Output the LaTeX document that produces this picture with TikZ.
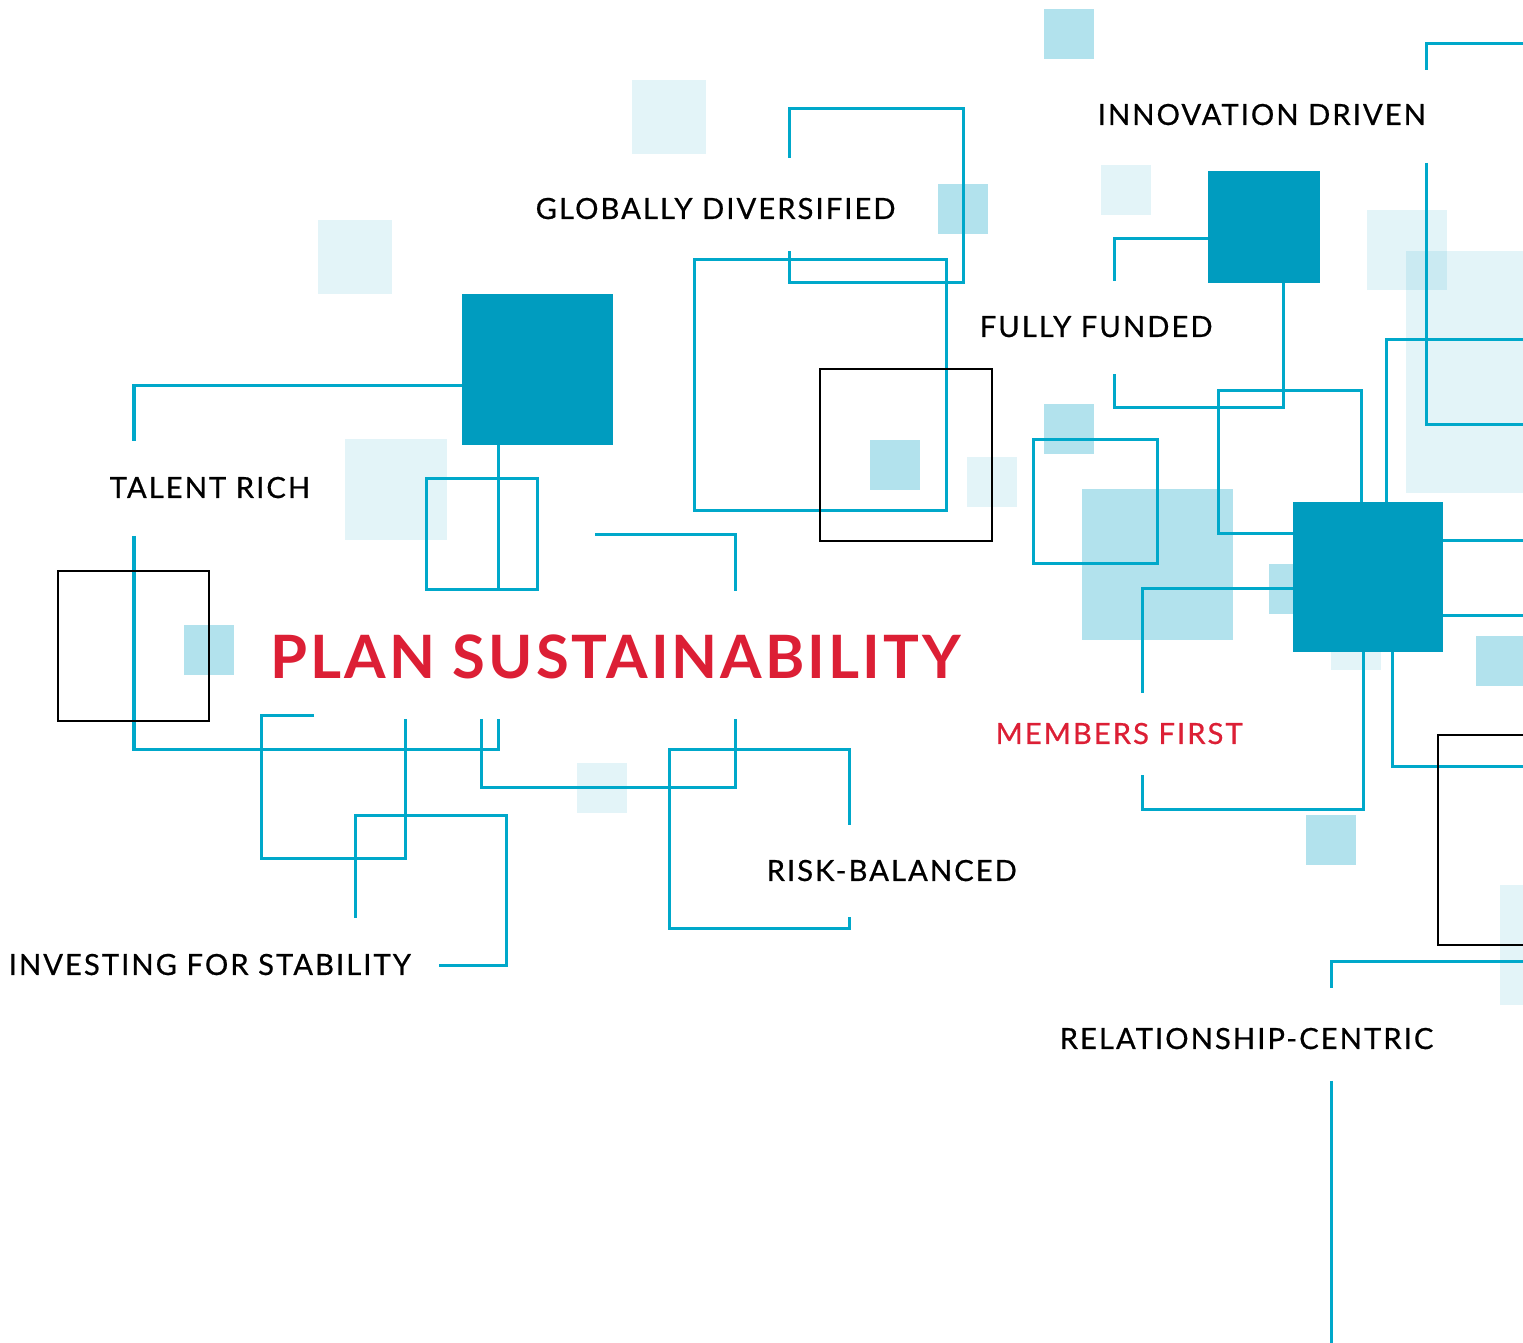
\documentclass[tikz,border=0pt]{standalone}
\usepackage{fontspec}
\setmainfont{Lato}
\newfontfamily\lblfont[LetterSpace=7, FakeBold=0.6]{Lato}
\newfontfamily\ttlfont[LetterSpace=5]{Lato}
\definecolor{sqblue}{HTML}{00A0C6}
\definecolor{sqdark}{HTML}{009CBF}
\definecolor{lineblue}{HTML}{00A8CA}
\definecolor{planred}{HTML}{DC1F35}

\begin{document}
\begin{tikzpicture}[
		x=0.01cm, y=-0.01cm,
		guide/.style	={ draw=lineblue, line width=0.03cm, line cap=butt, line join=miter },
		frame/.style	={ draw=black, line width=0.029cm },
		pale/.style		={ fill=sqblue, fill opacity=0.11 },
		light/.style	={ fill=sqblue, fill opacity=0.30 },
		block/.style	={ fill=sqdark },
		lbltext/.style	={ inner sep=0, anchor=base west,
			font=\lblfont\fontsize{8.3}{10}\selectfont },
		ttltext/.style	={ inner sep=0, anchor=base west, text=planred,
			font=\ttlfont\bfseries\fontsize{17}{20}\selectfont },
	]

	\fill[white] (0,0) rectangle (1523,1343);
	\useasboundingbox (0,0) rectangle (1523,1343);
	\clip (0,0) rectangle (1523,1343);

	% x/y/width/height of the squares
	\def\palelist{632/80/74/74, 318/220/74/74, 1101/165/50/50, 1367/210/80/80,
		1406/251/130/242, 345/439/102/101, 967/457/50/50, 577/763/50/50,
		1331/620/50/50, 1500/885/40/120}
	\def\lightlist{1044/9/50/50, 938/184/50/50, 184/625/50/50, 870/440/50/50,
		1044/404/50/50, 1082/489/151/151, 1269/564/50/50, 1476/636/60/50,
		1306/815/50/50}
	\def\darklist{462/294/151, 1208/171/112, 1293/502/150}

	% draw background squares
	\foreach \x/\y/\w/\h in \palelist
		\fill [pale] (\x,\y) rectangle ++(\w,\h);
	\foreach \x/\y/\w/\h in \lightlist
		\fill [light] (\x,\y) rectangle ++(\w,\h);

	% draw guides
	\draw [guide]
			% innovation driven
			(1426,70) |- (1540,44)
			(1426,163) |- (1540,425)
			% globally diversified
			(789,158) -- (789,109) -- (963,109) -- (963,283) -- (789,283) -- (789,251)
			(694,260) rectangle (946,511)
			% fully funded
			(1114,281) -- (1114,239) -- (1283,239) -- (1283,408) -- (1114,408) -- (1114,374)
			(1218,391) rectangle (1361,534)
			(1540,340) -| (1386,541) -- (1540,541)
			(1033,440) rectangle (1157,564);
	\draw [guide]
			% members first
			(1142,693) -- (1142,589) -- (1363,589) -- (1363,810) -- (1142,810) -- (1142,775)
			(1540,616) -| (1392,767) -- (1540,767)
			% relationship-centric
			(1331,988) |- (1540,962)
			(1331,1081) -- (1331,1360);
	\draw [guide]
			% talent rich
			(134,441) |- (498,386) -- (498,590)
			(134,536) |- (498,750) -- (498,719)
			(426,479) rectangle (537,590)
			(595,535) -| (735,591)
			(314,716) -| (261,859) -| (405,719)
			(481,719) |- (735,788) -- (735,719)
			% investing for stability
			(355,918) |- (506,816) |- (439,966)
			% risk-balanced
			(849,825) |- (669,750) |- (849,929) -- (849,917);

	% draw frames
	\draw [frame] (58,571) rectangle (209,721);
	\draw [frame] (820,369) rectangle (992,541);
	\draw [frame] (1438,735) rectangle (1560,945);

	% draw dark squares
	\foreach \x/\y/\s in \darklist
		\fill [block] (\x,\y) rectangle ++(\s,\s);

	% labels
	\node [lbltext] (innov)  at (1097,125)  {INNOVATION DRIVEN};
	\node [lbltext] (global) at (535,219)   {GLOBALLY DIVERSIFIED};
	\node [lbltext] (funded) at (979,337)   {FULLY FUNDED};
	\node [lbltext] (talent) at (109,498)   {TALENT RICH};
	\node [ttltext] (plan)   at (270,679)   {PLAN SUSTAINABILITY};
	\node [lbltext, text=planred] (members) at (995,744) {MEMBERS FIRST};
	\node [lbltext] (risk)   at (766,881)   {RISK-BALANCED};
	\node [lbltext] (invest) at (8,975)     {INVESTING FOR STABILITY};
	\node [lbltext] (relat)  at (1059,1049) {RELATIONSHIP-CENTRIC};

\end{tikzpicture}
\end{document}
